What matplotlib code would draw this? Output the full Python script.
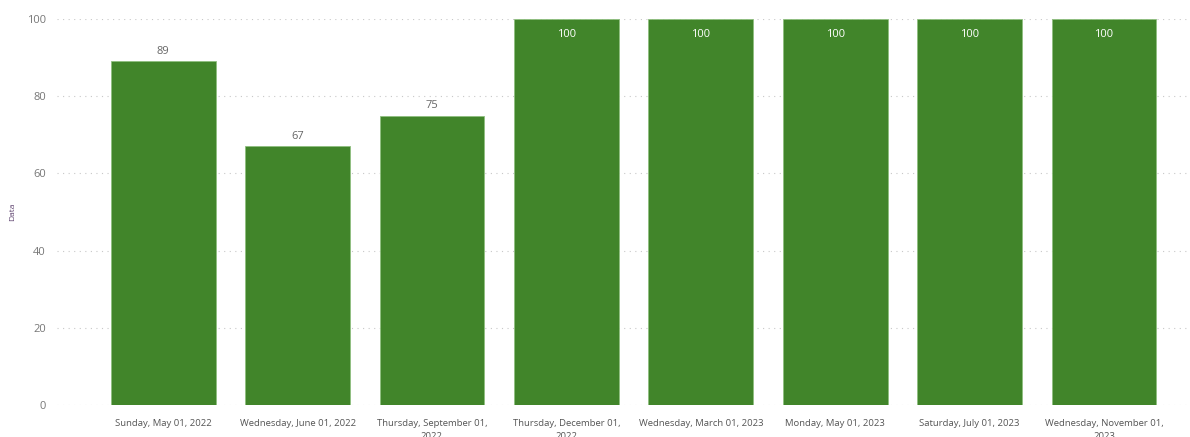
import matplotlib
matplotlib.use("Agg")
import matplotlib.pyplot as plt
import numpy as np

# chart data
dates = ["Sunday, May 01, 2022", "Wednesday, June 01, 2022",
         "Thursday, September 01,\n2022", "Thursday, December 01,\n2022",
         "Wednesday, March 01, 2023", "Monday, May 01, 2023",
         "Saturday, July 01, 2023", "Wednesday, November 01,\n2023"]
values = [89, 67, 75, 100, 100, 100, 100, 100]
yticks = [0, 20, 40, 60, 80, 100]

plt.rcParams['font.family'] = ['Open Sans', 'DejaVu Sans']

fig = plt.figure(figsize=(11.9, 4.37), dpi=100)
ax = fig.add_axes([57 / 1190, 32 / 437, 1133 / 1190, 386 / 437])

x = np.arange(len(values))
bars = ax.bar(x, values, width=0.78, color='#41852a', edgecolor='#8fbf7f',
              linewidth=0.6, zorder=3)

for xi, v in zip(x, values):
    if v >= 95:
        ax.annotate(str(v), (xi, v), xytext=(0, -7), textcoords='offset points',
                    ha='center', va='top', color='white', fontsize=8)
    else:
        ax.annotate(str(v), (xi, v), xytext=(0, 3), textcoords='offset points',
                    ha='center', va='bottom', color='#666666', fontsize=8)

ax.set_xlim(-0.79, 7.64)
ax.set_ylim(0, 100)
ax.set_yticks(yticks)
ax.set_xticks(x)
ax.set_xticklabels(dates, fontsize=6.8, color='#555555', linespacing=1.6)
ax.tick_params(axis='x', length=0, pad=10)
ax.tick_params(axis='y', length=0, pad=8, labelsize=8, labelcolor='#777777')

ax.grid(axis='y', color='#c8c8c8', linestyle=(0, (1, 4)), linewidth=0.8, zorder=0)
for s in ax.spines.values():
    s.set_visible(False)

fig.text(13 / 1190, 1 - 212 / 437, 'Data', rotation=90, fontsize=6,
         color='#5a3e6b', ha='center', va='center')

fig.savefig('out.png', dpi=100)
